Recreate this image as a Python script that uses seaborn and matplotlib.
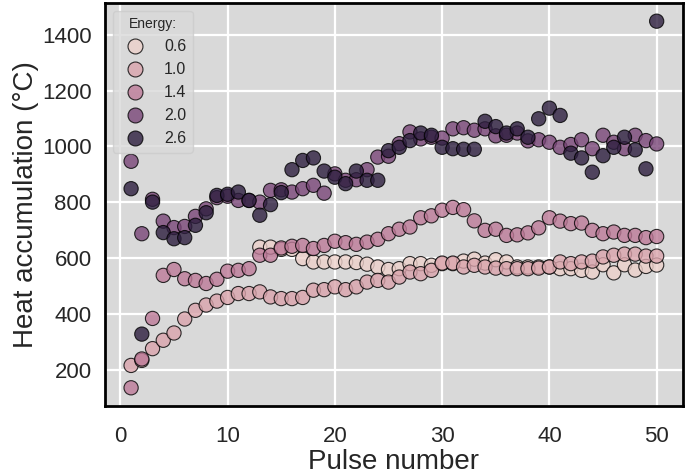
import pandas as pd
import matplotlib
matplotlib.use("Agg")
import matplotlib.pyplot as plt
import seaborn as sns

# Pulse numbers
pulses = list(range(1, 51))
pulses_low = list(range(13, 51))  # the 0.6 series only starts at pulse 13

# Heat accumulation (°C) per energy level
heat_06 = [640, 640, 632, 632, 599, 587, 587, 587, 587, 585, 579, 569, 560, 563,
           581, 581, 575, 581, 581, 590, 597, 583, 595, 587, 569, 569, 569, 569,
           563, 563, 557, 551, 577, 548, 577, 558, 571, 576]
heat_10 = [217, 235, 277, 307, 333, 383, 414, 433, 447, 460, 474, 474, 480, 462,
           456, 456, 460, 486, 488, 498, 488, 498, 515, 521, 515, 533, 551, 545,
           557, 583, 583, 569, 575, 569, 565, 563, 563, 563, 565, 569, 587, 581,
           587, 590, 605, 611, 615, 615, 608, 608]
heat_14 = [137, 240, 385, 539, 560, 527, 521, 510, 525, 554, 557, 563, 611, 611,
           637, 643, 646, 635, 646, 661, 656, 650, 658, 668, 688, 704, 712, 745,
           752, 772, 782, 774, 734, 700, 704, 682, 684, 691, 709, 745, 733, 724,
           726, 700, 688, 694, 682, 682, 674, 678]
heat_20 = [947, 688, 811, 733, 710, 714, 750, 777, 817, 822, 807, 807, 801, 843,
           845, 837, 849, 861, 833, 902, 879, 881, 917, 962, 965, 1010, 1052, 1027,
           1033, 1030, 1063, 1067, 1058, 1063, 1038, 1040, 1048, 1020, 1024, 1015,
           997, 1007, 1024, 992, 1040, 1015, 992, 1040, 1021, 1009]
heat_26 = [849, 329, 801, 692, 670, 674, 718, 763, 825, 829, 837, 807, 754, 792,
           835, 917, 950, 959, 912, 890, 867, 912, 879, 879, 985, 997, 1021, 1048,
           1040, 997, 992, 990, 990, 1090, 1071, 1048, 1063, 1033, 1099, 1137,
           1111, 976, 959, 908, 967, 997, 1033, 988, 920, 1448]

energies = [0.6, 1.0, 1.4, 2.0, 2.6]


def build_frame():
    parts = [
        pd.DataFrame({"Pulse": pulses_low, "Heat": heat_06, "Energy": 0.6}),
        pd.DataFrame({"Pulse": pulses, "Heat": heat_10, "Energy": 1.0}),
        pd.DataFrame({"Pulse": pulses, "Heat": heat_14, "Energy": 1.4}),
        pd.DataFrame({"Pulse": pulses, "Heat": heat_20, "Energy": 2.0}),
        pd.DataFrame({"Pulse": pulses, "Heat": heat_26, "Energy": 2.6}),
    ]
    return pd.concat(parts, ignore_index=True)


if __name__ == "__main__":
    df = build_frame()

    sns.set_style("darkgrid", {
        "axes.facecolor": "#d9d9d9",
        "axes.edgecolor": "black",
        "grid.color": "white",
    })
    plt.rcParams["font.family"] = ["Liberation Sans", "DejaVu Sans"]
    plt.rcParams["grid.linewidth"] = 1.6

    fig, ax = plt.subplots(figsize=(6.85, 4.75), dpi=100)
    fig.subplots_adjust(left=0.153, right=0.997, top=0.994, bottom=0.145)

    sns.scatterplot(data=df, x="Pulse", y="Heat", hue="Energy", legend="full",
                    s=105, alpha=0.8, edgecolor="black", linewidth=0.8, ax=ax)

    for side in ax.spines.values():
        side.set_linewidth(2)
        side.set_color("black")

    ax.set_xlabel("Pulse number", fontsize=20, labelpad=1)
    ax.set_ylabel("Heat accumulation (°C)", fontsize=20, labelpad=2)
    ax.tick_params(labelsize=16)
    ax.tick_params(axis="x", pad=11)
    ax.tick_params(axis="y", pad=6)

    sns.move_legend(ax, "upper left", title="Energy:", fontsize=11.5,
                    title_fontsize=10, markerscale=1.05)

    plt.savefig("out.png", dpi=100)
